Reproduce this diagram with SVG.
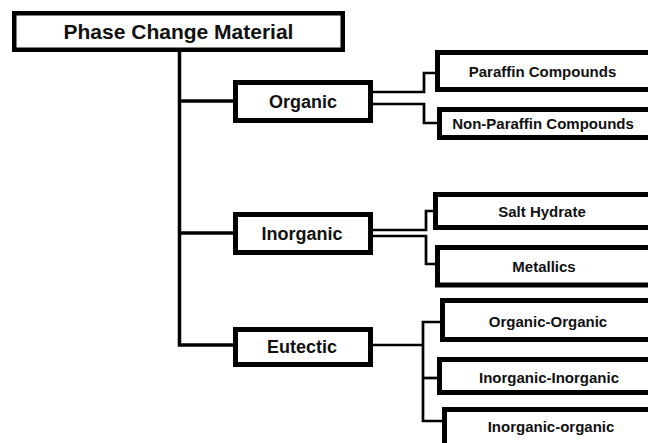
<svg xmlns="http://www.w3.org/2000/svg" width="648" height="443" viewBox="0 0 648 443">
<style>
.box{fill:#fff;stroke:#000}
.main{stroke-width:5}
.leaf{stroke-width:5}
.t{font-family:"Liberation Sans",Arial,sans-serif;font-weight:bold;fill:#111;text-anchor:middle}
.conn path{fill:none;stroke:#000;stroke-linejoin:miter;stroke-linecap:butt}
.trunk{stroke-width:3.5}
.br{stroke-width:2.7}
</style>
<rect width="648" height="443" fill="#fff"/>
<g id="connectors" class="conn">
<path class="trunk" d="M179.5,52 V345 H233"/>
<path class="trunk" d="M179.5,101 H233"/>
<path class="trunk" d="M179.5,233 H233"/>
<path class="br" d="M373,92 H424 V73 H435"/>
<path class="br" d="M373,104 H424 V123 H437"/>
<path class="br" d="M373,230 H426 V211 H433"/>
<path class="br" d="M373,236 H426 V264 H435"/>
<path class="br" d="M373,345 H423"/>
<path class="br" d="M440,322 H423 V421 H442"/>
<path class="br" d="M423,378 H437"/>
</g>
<g id="pcm">
<rect class="box" x="14.25" y="13.25" width="328.5" height="36.5" stroke-width="4.5"/>
<text class="t" x="178.5" y="38.5" font-size="21">Phase Change Material</text>
</g>
<g id="organic">
<rect class="box main" x="235.5" y="82.5" width="135" height="38"/>
<text class="t" x="303" y="107.5" font-size="18">Organic</text>
</g>
<g id="inorganic">
<rect class="box main" x="235.5" y="214.5" width="135" height="38"/>
<text class="t" x="302" y="239.5" font-size="18">Inorganic</text>
</g>
<g id="eutectic">
<rect class="box main" x="235.5" y="329.5" width="135" height="35"/>
<text class="t" x="302" y="352.5" font-size="18">Eutectic</text>
</g>
<g id="paraffin">
<rect class="box leaf" x="437.5" y="52.5" width="240" height="37"/>
<text class="t" x="542.5" y="77" font-size="15">Paraffin Compounds</text>
</g>
<g id="non-paraffin">
<rect class="box leaf" x="439.5" y="109.5" width="240" height="28"/>
<text class="t" x="543" y="129" font-size="15">Non-Paraffin Compounds</text>
</g>
<g id="salt-hydrate">
<rect class="box leaf" x="435.5" y="194.5" width="240" height="33"/>
<text class="t" x="542" y="217" font-size="15">Salt Hydrate</text>
</g>
<g id="metallics">
<rect class="box leaf" x="437.5" y="247.5" width="240" height="37.5"/>
<text class="t" x="544" y="272" font-size="15">Metallics</text>
</g>
<g id="organic-organic">
<rect class="box leaf" x="442.5" y="300.5" width="240" height="39"/>
<text class="t" x="548" y="327" font-size="15">Organic-Organic</text>
</g>
<g id="inorganic-inorganic">
<rect class="box leaf" x="439.5" y="359.5" width="240" height="33"/>
<text class="t" x="549" y="383" font-size="15">Inorganic-Inorganic</text>
</g>
<g id="inorganic-organic">
<rect class="box leaf" x="444.5" y="409.5" width="240" height="40"/>
<text class="t" x="551" y="432" font-size="15">Inorganic-organic</text>
</g>
</svg>
